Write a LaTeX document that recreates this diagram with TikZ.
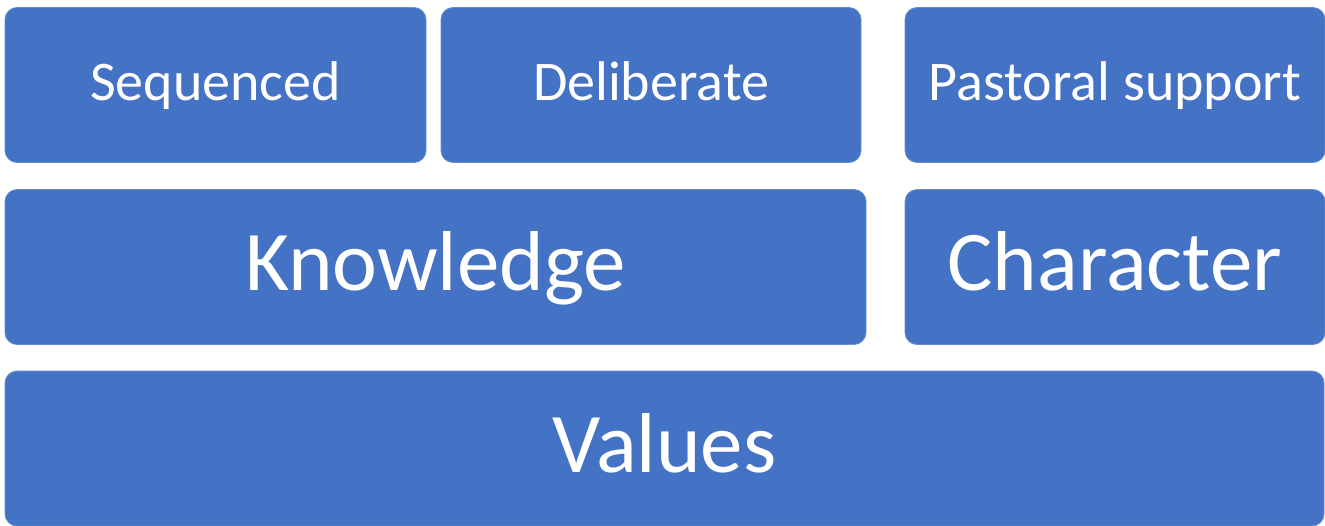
\documentclass[tikz,border=0pt]{standalone}
\usepackage{fontspec}
\setmainfont{Carlito}
\usetikzlibrary{positioning}
\definecolor{tileblue}{HTML}{4472C4}

\begin{document}
\begin{tikzpicture}[x=1pt, y=-1pt,
    tile/.style = {fill=tileblue, draw=tileblue!80!white, line width=0.8pt, rounded corners=12pt, inner sep=0pt, text=white, minimum height=155pt, text depth=0pt},
    small/.style = {tile, font=\fontsize{56}{62}\selectfont, text height=30pt},
    big/.style = {tile, font=\fontsize{85}{95}\selectfont, text height=47pt}]
    \useasboundingbox (0,0) rectangle (1325,525);
    \node[small, minimum width=421pt] (seq) at (215.5,85) {Sequenced};
    \node[small, minimum width=420pt] (del) at (651,85) {Deliberate};
    \node[small, minimum width=420pt] (past) at (1115,85) {Pastoral support};
    \node[big, minimum width=861pt] (know) at (435.5,267) {Knowledge};
    \node[big, minimum width=420pt] (char) at (1115,267) {Character};
    \node[big, minimum width=1319pt] (val) at (664.5,448.5) {Values};
\end{tikzpicture}
\end{document}
